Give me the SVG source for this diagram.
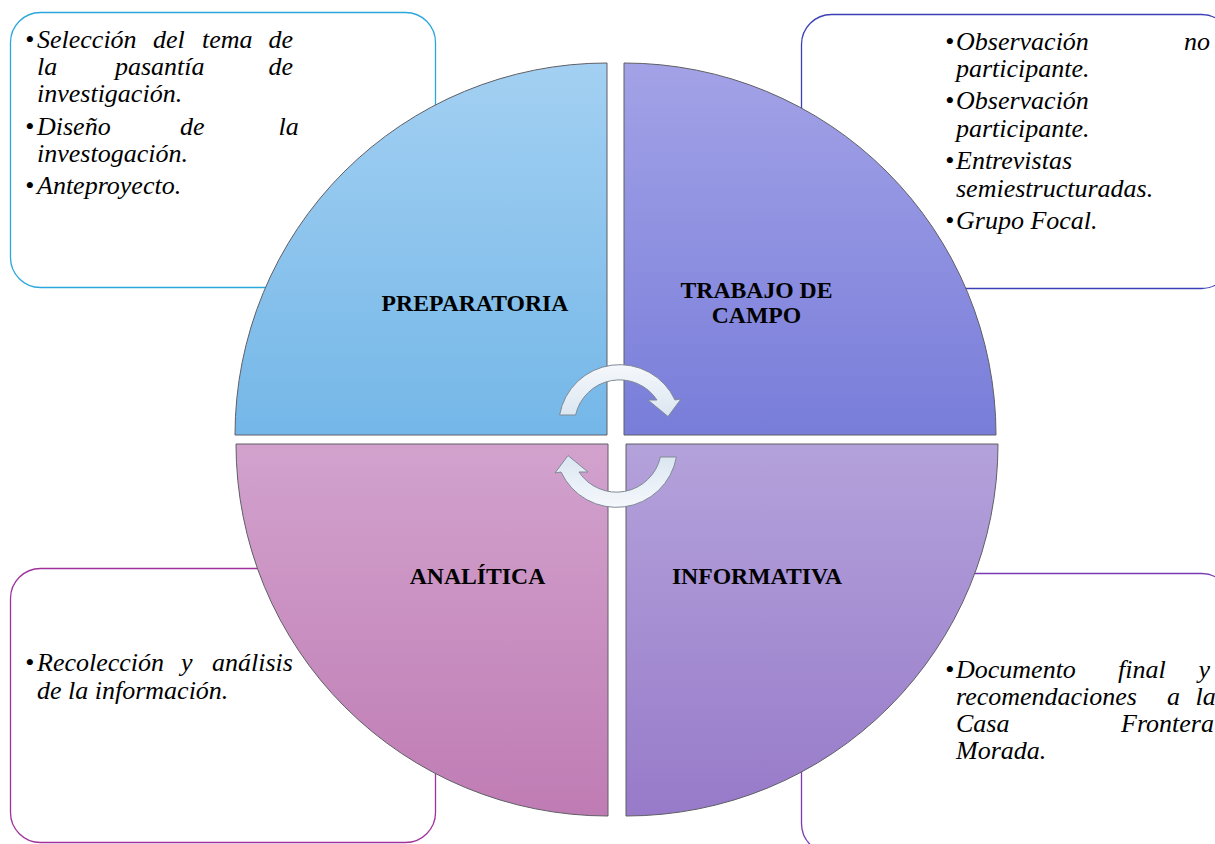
<svg xmlns="http://www.w3.org/2000/svg" width="1215" height="844" viewBox="0 0 1215 844">
<defs>
<linearGradient id="gTL" x1="0" y1="0" x2="0" y2="1"><stop offset="0" stop-color="#a3d0f2"/><stop offset="1" stop-color="#74b7e8"/></linearGradient>
<linearGradient id="gTR" x1="0" y1="0" x2="0" y2="1"><stop offset="0" stop-color="#a3a2e7"/><stop offset="1" stop-color="#787dd9"/></linearGradient>
<linearGradient id="gBL" x1="0" y1="0" x2="0" y2="1"><stop offset="0" stop-color="#d2a2cd"/><stop offset="1" stop-color="#bf7cb4"/></linearGradient>
<linearGradient id="gBR" x1="0" y1="0" x2="0" y2="1"><stop offset="0" stop-color="#b4a2db"/><stop offset="1" stop-color="#977ac9"/></linearGradient>
<linearGradient id="gArr" x1="0" y1="0" x2="0" y2="1"><stop offset="0" stop-color="#f5f8fc"/><stop offset="1" stop-color="#dbe6f1"/></linearGradient>
<path id="arrow" d="M 559.6 415 A 61 61 0 0 1 675 400 L 681 399 L 668 416.5 L 648 400 L 657 400 A 45 45 0 0 0 575.6 415 Z"/>
</defs>
<style>
.box{fill:#fff;stroke-width:1.3}
.q{stroke:#5f5f66;stroke-width:1}
.t{font-family:"Liberation Serif","Times New Roman",serif;font-style:italic;font-size:26px;fill:#000}
.lbl{font-family:"Liberation Serif","Times New Roman",serif;font-weight:bold;font-size:23.7px;fill:#000;text-anchor:middle}
.arr{fill:url(#gArr);stroke:#7f8a96;stroke-width:1}
</style>
<rect width="1215" height="844" fill="#fff"/>

<g id="box-preparatoria">
<rect class="box" x="10.5" y="12.5" width="425" height="275" rx="30" stroke="#2aa7dc"/>
<text class="t" y="48"><tspan x="25">•</tspan><tspan x="37">Selección</tspan><tspan x="153">del</tspan><tspan x="202">tema</tspan><tspan x="268.5">de</tspan></text>
<text class="t" y="75"><tspan x="37">la</tspan><tspan x="115">pasantía</tspan><tspan x="268.5">de</tspan></text>
<text class="t" x="37" y="102">investigación.</text>
<text class="t" y="135"><tspan x="25">•</tspan><tspan x="37">Diseño</tspan><tspan x="180">de</tspan><tspan x="278.5">la</tspan></text>
<text class="t" x="37" y="162">investogación.</text>
<text class="t" y="194"><tspan x="25">•</tspan><tspan x="37">Anteproyecto.</tspan></text>
</g>

<g id="box-campo">
<rect class="box" x="801.5" y="14.5" width="430" height="274" rx="30" stroke="#3b40b8"/>
<text class="t" y="50"><tspan x="945">•</tspan><tspan x="956">Observación</tspan><tspan x="1184">no</tspan></text>
<text class="t" x="956" y="77">participante.</text>
<text class="t" y="109"><tspan x="945">•</tspan><tspan x="956">Observación</tspan></text>
<text class="t" x="956" y="137">participante.</text>
<text class="t" y="169"><tspan x="945">•</tspan><tspan x="956">Entrevistas</tspan></text>
<text class="t" x="956" y="197">semiestructuradas.</text>
<text class="t" y="229"><tspan x="945">•</tspan><tspan x="956">Grupo Focal.</tspan></text>
</g>

<g id="box-analitica">
<rect class="box" x="10.5" y="568.5" width="425" height="274" rx="30" stroke="#a0329c"/>
<text class="t" y="671"><tspan x="25">•</tspan><tspan x="37">Recolección</tspan><tspan x="181">y</tspan><tspan x="212">análisis</tspan></text>
<text class="t" x="37" y="699">de la información.</text>
</g>

<g id="box-informativa">
<rect class="box" x="801.5" y="573.5" width="430" height="280" rx="30" stroke="#7a3bb2"/>
<text class="t" y="678"><tspan x="945">•</tspan><tspan x="956">Documento</tspan><tspan x="1118">final</tspan><tspan x="1198.5">y</tspan></text>
<text class="t" y="705"><tspan x="956">recomendaciones</tspan><tspan x="1167">a</tspan><tspan x="1195.5">la</tspan></text>
<text class="t" y="732"><tspan x="956">Casa</tspan><tspan x="1121">Frontera</tspan></text>
<text class="t" x="956" y="759">Morada.</text>
</g>

<g id="q-preparatoria">
<path class="q" fill="url(#gTL)" d="M 607 435 L 235 435 A 372 372 0 0 1 607 63 Z"/>
<text class="lbl" x="475" y="311">PREPARATORIA</text>
</g>
<g id="q-campo">
<path class="q" fill="url(#gTR)" d="M 624 435 L 624 63 A 372 372 0 0 1 996 435 Z"/>
<text class="lbl" x="756.5" y="298">TRABAJO DE</text>
<text class="lbl" x="756.5" y="323">CAMPO</text>
</g>
<g id="q-analitica">
<path class="q" fill="url(#gBL)" d="M 608 444 L 608 816 A 372 372 0 0 1 236 444 Z"/>
<text class="lbl" x="477.5" y="584">ANALÍTICA</text>
</g>
<g id="q-informativa">
<path class="q" fill="url(#gBR)" d="M 626 444 L 998 444 A 372 372 0 0 1 626 816 Z"/>
<text class="lbl" x="757" y="584">INFORMATIVA</text>
</g>

<g id="connectors">
<use href="#arrow" class="arr"/>
<use href="#arrow" class="arr" transform="rotate(180 618 436)"/>
</g>
</svg>
